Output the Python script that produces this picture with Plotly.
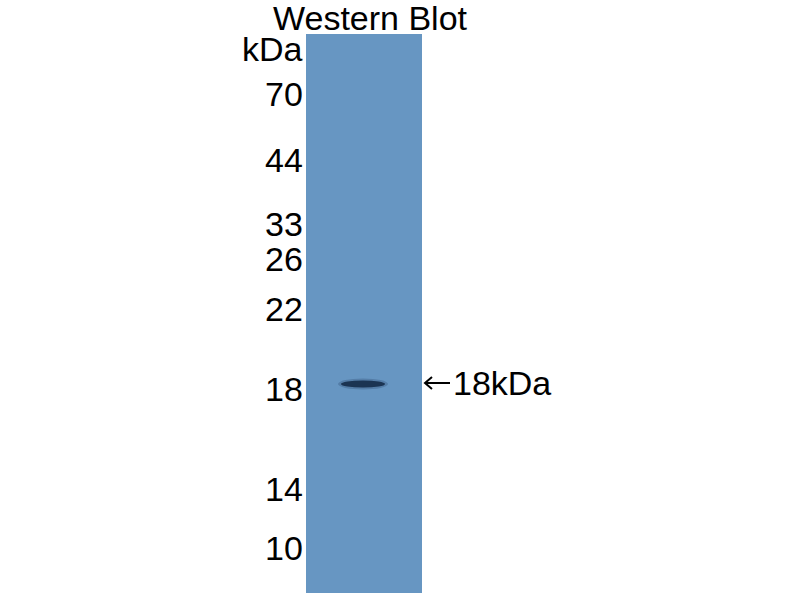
import plotly.graph_objects as go

# marker ladder (kDa) and where each one ran to, in pixels from the image top
marker_labels = ["70", "44", "33", "26", "22", "18", "14", "10"]
marker_pos = [94, 160, 224, 259, 309, 389, 489, 548]

# single lane and its detected band
lane_center = 364
lane_width = 116
lane_top = 34
lane_bottom = 593
band_label = "18kDa"
band_pos = 384
band_left = 341
band_right = 385

font = dict(family="Liberation Sans, Arial, sans-serif", size=34, color="black")

fig = go.Figure()

# the lane as one bar drawn top-down
fig.add_trace(go.Bar(
    x=[lane_center], y=[lane_bottom - lane_top], base=[lane_top],
    width=lane_width, marker=dict(color="#6796c2", line=dict(width=0)),
    hoverinfo="skip", showlegend=False,
))

# band: soft halo plus darker core
fig.add_shape(type="circle", xref="x", yref="y",
              x0=band_left - 3, x1=band_right + 3, y0=band_pos - 5.5, y1=band_pos + 5.5,
              fillcolor="rgba(40,70,105,0.3)", line_width=0, layer="above")
fig.add_shape(type="circle", xref="x", yref="y",
              x0=band_left, x1=band_right, y0=band_pos - 3.6, y1=band_pos + 3.6,
              fillcolor="#1b3452", line_width=0, layer="above")

lane_l = lane_center - lane_width / 2
lane_r = lane_center + lane_width / 2

# ladder labels to the left of the lane
for lab, pos in zip(marker_labels, marker_pos):
    fig.add_annotation(x=lane_l - 1, y=pos, text=lab,
                       xanchor="right", yanchor="middle", showarrow=False, font=font)

fig.add_annotation(x=lane_l - 1, y=49, text="kDa",
                   xanchor="right", yanchor="middle", showarrow=False, font=font)
fig.add_annotation(x=lane_center + 6, y=18, text="Western Blot",
                   xanchor="center", yanchor="middle", showarrow=False, font=font)

# arrow pointing at the band, then its size
ay = band_pos - 1
fig.add_shape(type="path", xref="x", yref="y",
              path=f"M {lane_r + 28} {ay} L {lane_r + 3} {ay} "
                   f"M {lane_r + 10} {ay - 6} L {lane_r + 3} {ay} L {lane_r + 10} {ay + 6}",
              line=dict(color="black", width=2))
fig.add_annotation(x=lane_r + 29, y=ay, text=band_label,
                   xanchor="left", yanchor="middle", showarrow=False, font=font)

fig.update_layout(
    width=800, height=600,
    margin=dict(l=0, r=0, t=0, b=0),
    paper_bgcolor="white", plot_bgcolor="white",
    xaxis=dict(range=[0, 800], visible=False, fixedrange=True),
    yaxis=dict(range=[600, 0], visible=False, fixedrange=True),
    bargap=0,
)

# drop the default body margin so the figure sits flush in the window
fig.write_html("out.html", config={"displayModeBar": False},
               post_script="document.body.style.margin='0';")
